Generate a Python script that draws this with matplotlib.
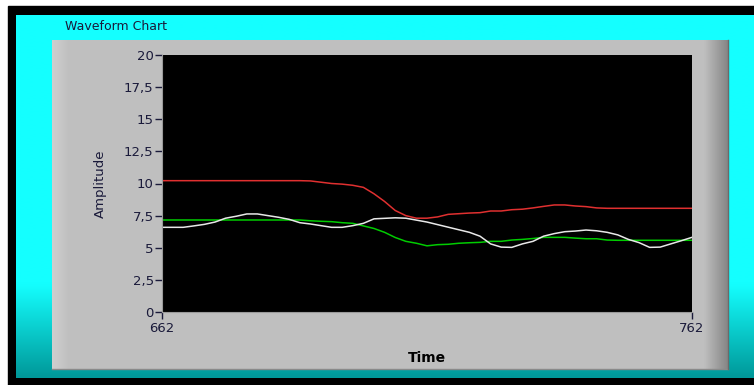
import numpy as np
import matplotlib
matplotlib.use('Agg')
from matplotlib import pyplot as plt
from matplotlib.patches import Rectangle
from matplotlib.ticker import FuncFormatter

# data (time step of 2)
time = list(range(662, 763, 2))
red = [10.22] * 14 + [10.2, 10.1, 10.0, 9.95, 9.86, 9.7, 9.2, 8.6, 7.9, 7.5,
                      7.3, 7.3, 7.4, 7.6, 7.65, 7.7, 7.73, 7.86, 7.86, 7.96,
                      8.0, 8.1, 8.22, 8.33, 8.33, 8.25, 8.2, 8.1] + [8.07] * 9
green = [7.16] * 14 + [7.1, 7.06, 7.03, 6.95, 6.9, 6.7, 6.5, 6.2, 5.8, 5.5,
                       5.35, 5.15, 5.24, 5.27, 5.35, 5.39, 5.42, 5.5, 5.5, 5.6,
                       5.65, 5.72, 5.81, 5.81, 5.81, 5.75, 5.7, 5.7, 5.6] + [5.58] * 8
white = [6.59, 6.59, 6.59, 6.7, 6.82, 7.0, 7.3, 7.45, 7.63, 7.63,
         7.5, 7.37, 7.21, 6.95, 6.85, 6.72, 6.59, 6.59, 6.72, 6.9,
         7.25, 7.29, 7.33, 7.3, 7.15, 7.0, 6.8, 6.6, 6.4, 6.2,
         5.9, 5.3, 5.05, 5.03, 5.3, 5.5, 5.9, 6.1, 6.25, 6.3,
         6.38, 6.32, 6.2, 6.0, 5.65, 5.4, 5.03, 5.05, 5.3, 5.55, 5.81]

W, H = 754, 385
fig = plt.figure(figsize=(W / 100, H / 100), dpi=100, facecolor='white')

# background in pixel coordinates
bg = fig.add_axes([0, 0, 1, 1])
bg.set_xlim(0, W)
bg.set_ylim(H, 0)
bg.axis('off')

bg.add_patch(Rectangle((8, 6), W - 8, H - 6, color='black'))
# cyan gradient area
c1 = np.array([0x14, 0xFF, 0xFF]) / 255
c2 = np.array([0x00, 0x99, 0x9A]) / 255
t = np.clip((np.linspace(15, 378, 100) - 285) / 93, 0, 1)[:, None]
img = (c1 * (1 - t) + c2 * t)[:, None, :]
bg.imshow(img, extent=(16, W, 378, 15), aspect='auto', interpolation='bilinear', zorder=1)

# gray panel with shaded edges
cols = np.linspace(52, 728, 400)
shade = np.full(400, 0.75)
shade[cols < 68] = 0.75 + 0.06 * (68 - cols[cols < 68]) / 16
r = cols > 705
shade[r] = 0.75 - 0.22 * (cols[r] - 705) / 23
panel = np.repeat(shade[None, :, None], 3, axis=2)
bg.imshow(panel, extent=(52, 728, 369, 40), aspect='auto', interpolation='bilinear', zorder=2)
bg.plot([52, 728], [368.5, 368.5], color='#8a8a8a', lw=1, zorder=3)
bg.plot([727.5, 727.5], [40, 369], color='#6a6a6a', lw=1, zorder=3)

bg.text(65, 27, 'Waveform Chart', fontsize=9, color='#1a1a3a', va='center', ha='left',
        family='DejaVu Sans', zorder=4)

# main chart
ax = fig.add_axes([162 / W, (H - 312) / H, 530 / W, 257 / H])
ax.set_facecolor('black')
ax.plot(time, red, color='#e03030', lw=1.1)
ax.plot(time, green, color='#00cc00', lw=1.1)
ax.plot(time, white, color='#e8e8e8', lw=1.1)
ax.set_xlim(662, 762)
ax.set_ylim(0, 20)
ax.set_xticks([662, 762])
ax.set_yticks(np.arange(0, 20.1, 2.5))
ax.yaxis.set_major_formatter(FuncFormatter(lambda v, p: ('%g' % v).replace('.', ',')))
ax.tick_params(axis='both', colors='#1a1a3a', labelsize=9.5, length=5, width=1)
ax.tick_params(axis='y', pad=1)
ax.tick_params(axis='x', pad=2)
for s in ['top', 'right']:
    ax.spines[s].set_visible(False)
ax.spines['left'].set_color('#9a9a9a')
ax.spines['bottom'].set_color('#9a9a9a')
ax.set_ylabel('Amplitude', fontsize=9.5, color='#1a1a3a', labelpad=12)
ax.set_xlabel('Time', fontsize=10, fontweight='bold', color='black', labelpad=12,
              family='Liberation Sans Narrow')

fig.savefig('out.png', dpi=100, facecolor='white')
